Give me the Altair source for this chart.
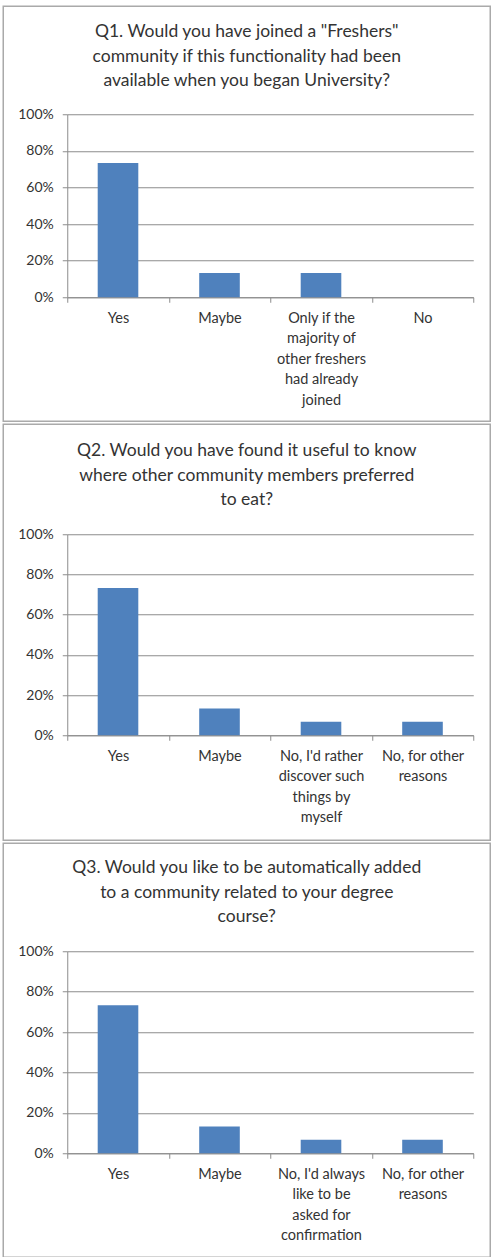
import altair as alt
import pandas as pd

BLUE = "#4F81BD"
FONT = "Lato"
TEXT = "#333333"
GRID = "#8c8c8c"
BORDER = "#aaaaaa"

q1_title = ['Q1. Would you have joined a "Freshers"',
            'community if this functionality had been',
            'available when you began University?']
q1_cats = ["Yes", "Maybe", "Only if the\nmajority of\nother freshers\nhad already\njoined", "No"]
q1_vals = [0.733, 0.133, 0.133, 0.0]

q2_title = ['Q2. Would you have found it useful to know',
            'where other community members preferred',
            'to eat?']
q2_cats = ["Yes", "Maybe", "No, I'd rather\ndiscover such\nthings by\nmyself", "No, for other\nreasons"]
q2_vals = [0.733, 0.133, 0.067, 0.067]

q3_title = ['Q3. Would you like to be automatically added',
            'to a community related to your degree',
            'course?']
q3_cats = ["Yes", "Maybe", "No, I'd always\nlike to be\nasked for\nconfirmation", "No, for other\nreasons"]
q3_vals = [0.733, 0.133, 0.067, 0.067]

y_ticks = [0, 0.2, 0.4, 0.6, 0.8, 1.0]

PLOT_W = 406


def panel(title, cats, vals, plot_h, box_top, box_bottom, title_y):
    df = pd.DataFrame({"answer": cats, "share": vals})
    bars = alt.Chart(df).mark_bar(color=BLUE, width=alt.RelativeBandSize(0.4)).encode(
        x=alt.X("answer:N", sort=cats, title=None,
                scale=alt.Scale(paddingInner=0, paddingOuter=0),
                axis=alt.Axis(labelAngle=0, labelExpr="split(datum.label, '\\n')",
                              tickBand="extent", grid=False, domainColor=GRID,
                              tickColor=GRID, tickSize=5, labelFont=FONT,
                              labelFontSize=14.5, labelColor=TEXT, labelLineHeight=20.5,
                              labelPadding=9, labelLimit=200)),
        y=alt.Y("share:Q", scale=alt.Scale(domain=[0, 1], nice=False), title=None,
                axis=alt.Axis(values=y_ticks, format=".0%", grid=True, gridColor=GRID,
                              domainColor=GRID, tickColor=GRID, tickSize=5,
                              labelFont=FONT, labelFontSize=14, labelColor=TEXT,
                              labelPadding=9)),
    )
    one = pd.DataFrame({"k": [0]})
    box = alt.Chart(one).mark_rect(filled=False, stroke=BORDER, strokeWidth=1.5).encode(
        x=alt.value(-64), x2=alt.value(423), y=alt.value(box_top), y2=alt.value(box_bottom))
    head = alt.Chart(one).mark_text(font=FONT, fontSize=17.5, color=TEXT, align="center",
                                    baseline="middle", lineHeight=24.5).encode(
        x=alt.value(179.5), y=alt.value(title_y), text=alt.value(title))
    return alt.layer(box, bars, head).properties(width=PLOT_W, height=plot_h)


p1 = panel(q1_title, q1_cats, q1_vals, 183, -108, 307, -82)
p2 = panel(q2_title, q2_cats, q2_vals, 201, -110, 306, -83)
p3 = panel(q3_title, q3_cats, q3_vals, 202, -108, 306, -83)

chart = alt.vconcat(p1, p2, p3, spacing=1).properties(
    padding={"left": 2.25, "top": 5.25, "right": 0, "bottom": 0},
    background="white",
).configure_view(stroke=None)

chart.save("out.html", embed_options={"renderer": "svg", "actions": False})
